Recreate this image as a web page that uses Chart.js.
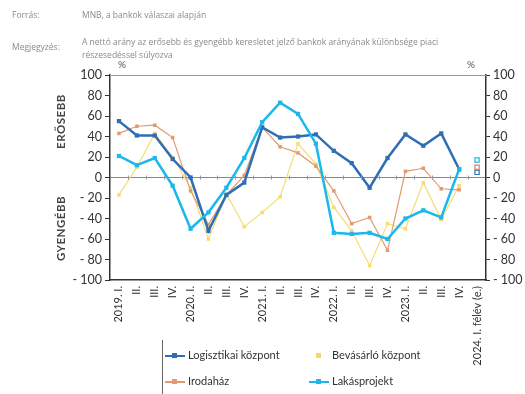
<!DOCTYPE html>
<html>
<head>
<meta charset="utf-8">
<script src="https://cdn.jsdelivr.net/npm/chart.js@4"></script>
<style>
  body { margin: 0; background: #fff; }
  #wrap { position: relative; width: 525px; height: 394px; overflow: hidden; font-family: Lato, "Open Sans", sans-serif; }
  #chart { position: absolute; left: 0; top: 0; }
  .note { position: absolute; color: #8a8a8a; font-size: 8.5px; font-family: "Open Sans", sans-serif; white-space: nowrap; }
  .pct { position: absolute; color: #555; font-size: 10px; }
  .ytitle { position: absolute; color: #444; font-size: 11.5px; font-weight: bold; letter-spacing: 0.5px; transform: rotate(-90deg); transform-origin: center; white-space: nowrap; }
  #legend { position: absolute; left: 162px; top: 340px; width: 280px; height: 60px; border-left: 1px solid #666; }
  .li { position: absolute; font-size: 11px; color: #333; white-space: nowrap; }
  .li i { display: inline-block; position: relative; width: 20px; height: 10px; vertical-align: middle; margin-right: 3px; }
  .li i:before { content: ""; position: absolute; left: 0; right: 0; top: 4px; border-top: 2px solid; border-color: inherit; }
  .li i:after { content: ""; position: absolute; left: 7px; top: 2px; width: 5px; height: 5px; background: currentColor; }
</style>
</head>
<body>
<div id="wrap">
  <canvas id="chart" width="525" height="394"></canvas>
  <div class="note" style="left:12px;top:9px">Forrás:</div>
  <div class="note" style="left:82px;top:9px">MNB, a bankok válaszai alapján</div>
  <div class="note" style="left:12px;top:41px">Megjegyzés:</div>
  <div class="note" style="left:82px;top:36px">A nettó arány az erősebb és gyengébb keresletet jelző bankok arányának különbsége piaci</div>
  <div class="note" style="left:82px;top:49px">részesedéssel súlyozva</div>
  <div class="pct" style="left:118px;top:58px">%</div>
  <div class="pct" style="left:467px;top:58px">%</div>
  <div class="ytitle" style="left:30px;top:115px;width:60px;text-align:center">ERŐSEBB</div>
  <div class="ytitle" style="left:25px;top:222px;width:70px;text-align:center">GYENGÉBB</div>
  <div id="legend">
    <div class="li" style="left:2px;top:8px;color:#2f6db5"><i style="border-color:#2f6db5"></i><span style="color:#333">Logisztikai központ</span></div>
    <div class="li" style="left:146px;top:8px;color:#f5d86a"><i style="border-color:transparent"></i><span style="color:#333">Bevásárló központ</span></div>
    <div class="li" style="left:2px;top:34px;color:#e39a72"><i style="border-color:#e39a72"></i><span style="color:#333">Irodaház</span></div>
    <div class="li" style="left:146px;top:34px;color:#1cb8ec"><i style="border-color:#1cb8ec"></i><span style="color:#333">Lakásprojekt</span></div>
  </div>
</div>
<script>
const labels = ["2019. I.", "II.", "III.", "IV.", "2020. I.", "II.", "III.", "IV.",
  "2021. I.", "II.", "III.", "IV.", "2022. I.", "II.", "III.", "IV.",
  "2023. I.", "II.", "III.", "IV.", "2024. I. félév (e.)"];

// quarterly values up to 2023 Q4
const logisztikai = [55, 41, 41, 18, 0, -52, -17, -5, 49, 39, 40, 42, 26, 14, -10, 19, 42, 31, 43, 8];
const bevasarlo = [-17, 10, 43, 20, -10, -60, -16, -48, -34, -19, 33, 13, -29, -52, -86, -45, -50, -5, -41, -8];
const irodahaz = [43, 50, 51, 39, -13, -46, -17, 2, 49, 30, 24, 11, -13, -45, -39, -71, 6, 9, -11, -12];
const lakas = [21, 12, 19, -8, -50, -34, -10, 19, 54, 73, 62, 33, -54, -55, -54, -60, -40, -32, -39, 8];

// 2024 H1 estimates (hollow markers)
const logisztikaiEst = 5;
const irodahazEst = 10;
const lakasEst = 17;

const yTicks = [-100, -80, -60, -40, -20, 0, 20, 40, 60, 80, 100];

function est(v) {
  const arr = labels.map(() => null);
  arr[labels.length - 1] = v;
  return arr;
}

function line(label, data, color, width, order) {
  return {
    label, data, borderColor: color, backgroundColor: color,
    borderWidth: width, pointStyle: 'rect', pointRadius: width > 2 ? 3 : 2.5,
    pointBorderWidth: 0, tension: 0, order
  };
}

function hollow(value, color) {
  return {
    label: '', data: est(value), showLine: false, pointStyle: 'rect',
    pointRadius: 3, borderColor: color, backgroundColor: '#fff', pointBorderWidth: 1.2, order: 0
  };
}

const fmt = v => v < 0 ? '- ' + Math.abs(v) : String(v);

// top frame line + small ticks along the zero line
const extras = {
  id: 'extras',
  afterDatasetsDraw(chart) {
    const { ctx, chartArea: a, scales } = chart;
    ctx.save();
    ctx.strokeStyle = '#999';
    ctx.lineWidth = 1;
    ctx.beginPath();
    ctx.moveTo(a.left, a.top + 0.5);
    ctx.lineTo(a.right, a.top + 0.5);
    ctx.stroke();
    const y0 = scales.y.getPixelForValue(0);
    const step = (a.right - a.left) / labels.length;
    ctx.beginPath();
    for (let i = 1; i < labels.length; i++) {
      const x = Math.round(a.left + step * i) + 0.5;
      ctx.moveTo(x, y0 - 2);
      ctx.lineTo(x, y0 + 2);
    }
    ctx.stroke();
    ctx.restore();
  }
};

const tickFont = { family: 'Lato, "Open Sans", sans-serif', size: 12.5 };

new Chart(document.getElementById('chart'), {
  type: 'line',
  data: {
    labels,
    datasets: [
      line('Lakásprojekt', lakas, '#1cb8ec', 2.5, 1),
      line('Logisztikai központ', logisztikai, '#2f6db5', 2.5, 2),
      line('Irodaház', irodahaz, '#e39a72', 1.2, 3),
      line('Bevásárló központ', bevasarlo, '#f7dc70', 1.2, 4),
      hollow(lakasEst, '#1cb8ec'),
      hollow(irodahazEst, '#e07a5a'),
      hollow(logisztikaiEst, '#2f6db5')
    ]
  },
  options: {
    responsive: false,
    animation: false,
    layout: { padding: { top: 75, left: 0, right: 0, bottom: 0 } },
    plugins: { legend: { display: false }, tooltip: { enabled: false } },
    scales: {
      x: {
        offset: true,
        grid: { display: false, drawTicks: false },
        border: { color: '#333', width: 1.5 },
        ticks: {
          autoSkip: false, maxRotation: 90, minRotation: 90, padding: 6,
          color: '#333', font: { family: 'Lato, "Open Sans", sans-serif', size: 11 }
        },
        afterFit(s) { s.height = 114; }
      },
      y: {
        min: -100, max: 100,
        afterBuildTicks(s) { s.ticks = yTicks.map(v => ({ value: v })); },
        grid: {
          color: c => c.tick && c.tick.value === 0 ? '#888' : 'rgba(0,0,0,0)',
          tickColor: '#333', tickLength: 5, lineWidth: 1
        },
        border: { color: '#333', width: 1.5 },
        ticks: { callback: fmt, color: '#333', font: tickFont, padding: 3 },
        afterFit(s) { s.width = 110; }
      },
      y2: {
        position: 'right', min: -100, max: 100,
        afterBuildTicks(s) { s.ticks = yTicks.map(v => ({ value: v })); },
        grid: { drawOnChartArea: false, tickColor: '#333', tickLength: 4 },
        border: { color: '#333', width: 1.5 },
        ticks: { callback: fmt, color: '#333', font: tickFont, padding: 3 },
        afterFit(s) { s.width = 39; }
      }
    }
  },
  plugins: [extras]
});
</script>
</body>
</html>
